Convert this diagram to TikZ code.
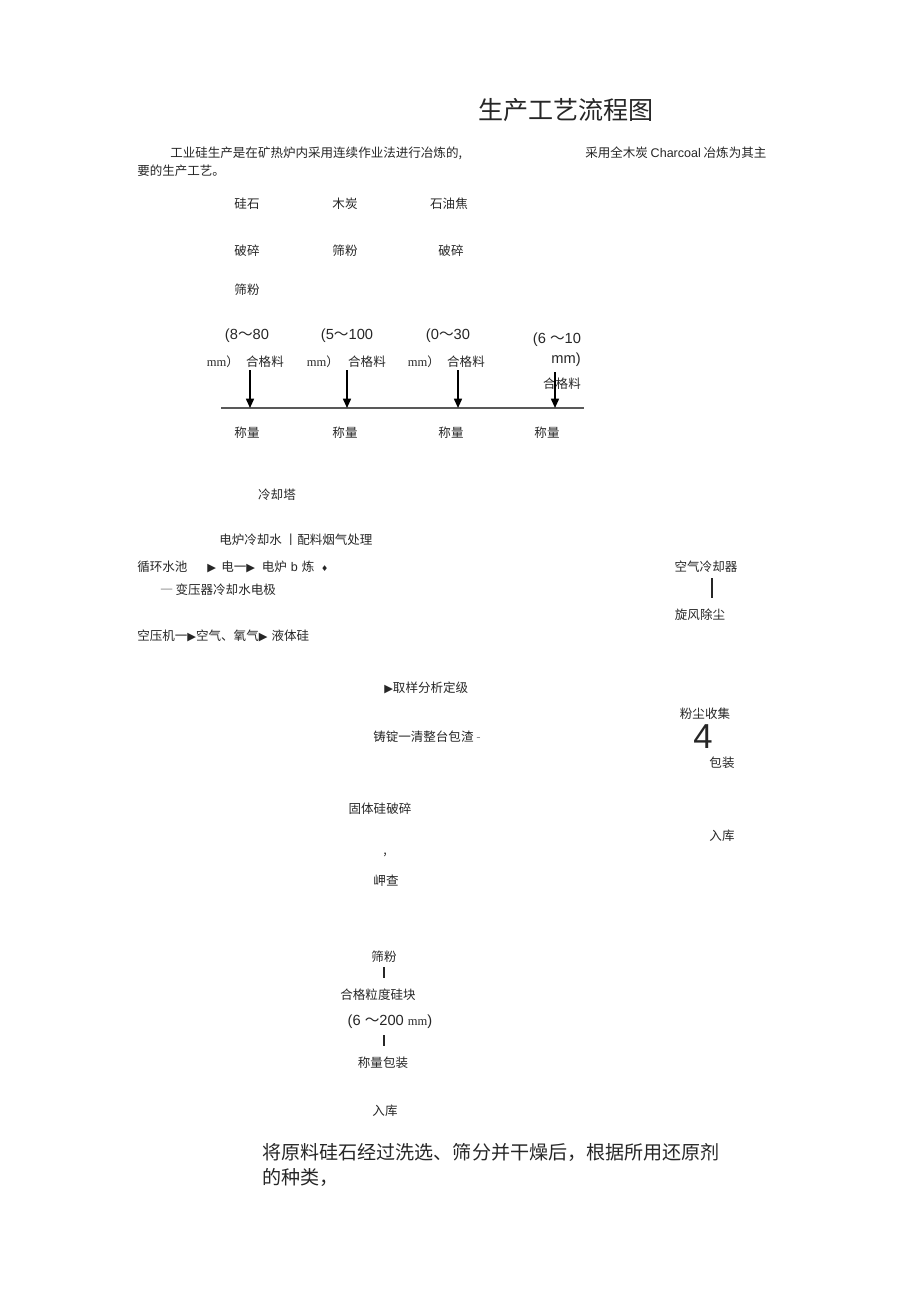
\documentclass[tikz,border=0pt]{standalone}
\usepackage{fontspec}
\setmainfont{Noto Sans CJK SC}
\newfontfamily\latin{Liberation Sans}
\newfontfamily\serifmm{Liberation Serif}
\newfontfamily\symb{DejaVu Sans}
\newcommand\playtri{{\symb\fontsize{8.5}{10}\selectfont ▶}}
\usetikzlibrary{arrows.meta}

\begin{document}
\begin{tikzpicture}[x=0.75pt, y=-0.75pt,
    txt/.style = {inner sep=0pt, text=black!85, font=\fontsize{9.4}{11}\selectfont},
    lft/.style = {txt, anchor=west},
    num/.style = {txt, font=\fontsize{11}{13}\selectfont\latin},
    feed/.style = {line width=1.2pt, -{Triangle[width=6pt,length=7pt]}},
    bar/.style = {line width=1.6pt, black!85}]
  \useasboundingbox (0,0) rectangle (920,1303);

  \node[txt, font=\fontsize{18.8}{22}\selectfont] (title) at (566,110) {生产工艺流程图};
  \node[lft] (intro1) at (170,153) {工业硅生产是在矿热炉内采用连续作业法进行冶炼的,};
  \node[lft] (intro2) at (585,153) {采用全木炭 {\latin Charcoal} 冶炼为其主};
  \node[lft] (intro3) at (137,171) {要的生产工艺。};

  \node[txt] (silica) at (247,204) {硅石};
  \node[txt] (wood) at (345,204) {木炭};
  \node[txt] (coke) at (449,204) {石油焦};

  \node[txt] (crush1) at (247,251) {破碎};
  \node[txt] (sieve2) at (345,251) {筛粉};
  \node[txt] (crush3) at (451,251) {破碎};
  \node[txt] (sieve1) at (247,290) {筛粉};

  \node[num] (size1) at (247,336) {(8{\rmfamily ～}80};
  \node[num] (size2) at (347,336) {(5{\rmfamily ～}100};
  \node[num] (size3) at (448,336) {(0{\rmfamily ～}30};
  \node[num] (size4) at (557,340) {(6 {\rmfamily ～}10};
  \node[num] (mm4) at (566,360) {mm)};

  \node[txt] (mm1) at (223,362) {{\serifmm mm}）};
  \node[txt] (ok1) at (265,362) {合格料};
  \node[txt] (mm2) at (323,362) {{\serifmm mm}）};
  \node[txt] (ok2) at (367,362) {合格料};
  \node[txt] (mm3) at (424,362) {{\serifmm mm}）};
  \node[txt] (ok3) at (466,362) {合格料};
  \node[txt] (ok4) at (562,384) {合格料};

  \coordinate (a1) at (250,370);
  \coordinate (a2) at (347,370);
  \coordinate (a3) at (458,370);
  \coordinate (a4) at (555,372);
  \coordinate (beltL) at (221,408);
  \coordinate (beltR) at (584,408);

  \draw[line width=1.3pt, black!65] (beltL) -- (beltR);
  \draw[feed] (a1) -- (a1 |- beltL);
  \draw[feed] (a2) -- (a2 |- beltL);
  \draw[feed] (a3) -- (a3 |- beltL);
  \draw[feed] (a4) -- (a4 |- beltL);

  \node[txt] (weigh1) at (247,433) {称量};
  \node[txt] (weigh2) at (345,433) {称量};
  \node[txt] (weigh3) at (451,433) {称量};
  \node[txt] (weigh4) at (547,433) {称量};

  \node[txt] (tower) at (277,495) {冷却塔};
  \node[lft] (furnwater) at (219,540) {电炉冷却水 丨配料烟气处理};
  \node[lft] (pool) at (137,567) {循环水池};
  \node[lft] (smelt) at (207,567) {\playtri\hspace{4pt}电一\playtri\hspace{5pt}电炉\hspace{3pt}{\latin b}\hspace{3pt}炼\hspace{5pt}{\symb\fontsize{6}{8}\selectfont ♦}};
  \node[lft] (trans) at (160,590) {{\color{black!40}一} 变压器冷却水电极};
  \node[lft] (compr) at (137,636) {空压机一\playtri 空气、氧气\playtri\hspace{3pt}液体硅};

  \node[txt] (aircool) at (706,567) {空气冷却器};
  \coordinate (b1top) at (712,578);
  \coordinate (b1bot) at (712,598);
  \draw[bar, line width=2.2pt] (b1top) -- (b1bot);
  \node[txt] (cyclone) at (700,615) {旋风除尘};

  \node[lft] (sample) at (384,688) {\playtri 取样分析定级};
  \node[lft] (ingot) at (373,737) {铸锭一清整台包渣 {\color{black!50}-}};

  \node[txt] (dust) at (705,714) {粉尘收集};
  \node[txt, font=\fontsize{26}{30}\selectfont\latin] (four) at (703,737) {4};
  \node[txt] (pack) at (722,763) {包装};
  \node[txt] (store1) at (722,836) {入库};

  \node[txt] (solid) at (380,809) {固体硅破碎};
  \node[txt] (tick) at (385,855) {,};
  \node[txt] (slag) at (386,881) {岬查};

  \node[txt] (sieve5) at (384,957) {筛粉};
  \coordinate (b2top) at (384,967);
  \coordinate (b2bot) at (384,978);
  \draw[bar] (b2top) -- (b2bot);
  \node[txt] (lump) at (378,995) {合格粒度硅块};
  \node[num] (size5) at (390,1022) {(6 {\rmfamily ～}200 {\serifmm\fontsize{9.4}{11}\selectfont mm})};
  \coordinate (b3top) at (384,1035);
  \coordinate (b3bot) at (384,1046);
  \draw[bar] (b3top) -- (b3bot);
  \node[txt] (packw) at (383,1063) {称量包装};
  \node[txt] (store2) at (385,1111) {入库};

  \node[lft, font=\fontsize{14.3}{17}\selectfont] (note1) at (262,1152) {将原料硅石经过洗选、筛分并干燥后，根据所用还原剂};
  \node[lft, font=\fontsize{14.3}{17}\selectfont] (note2) at (262,1177) {的种类，};
\end{tikzpicture}
\end{document}
